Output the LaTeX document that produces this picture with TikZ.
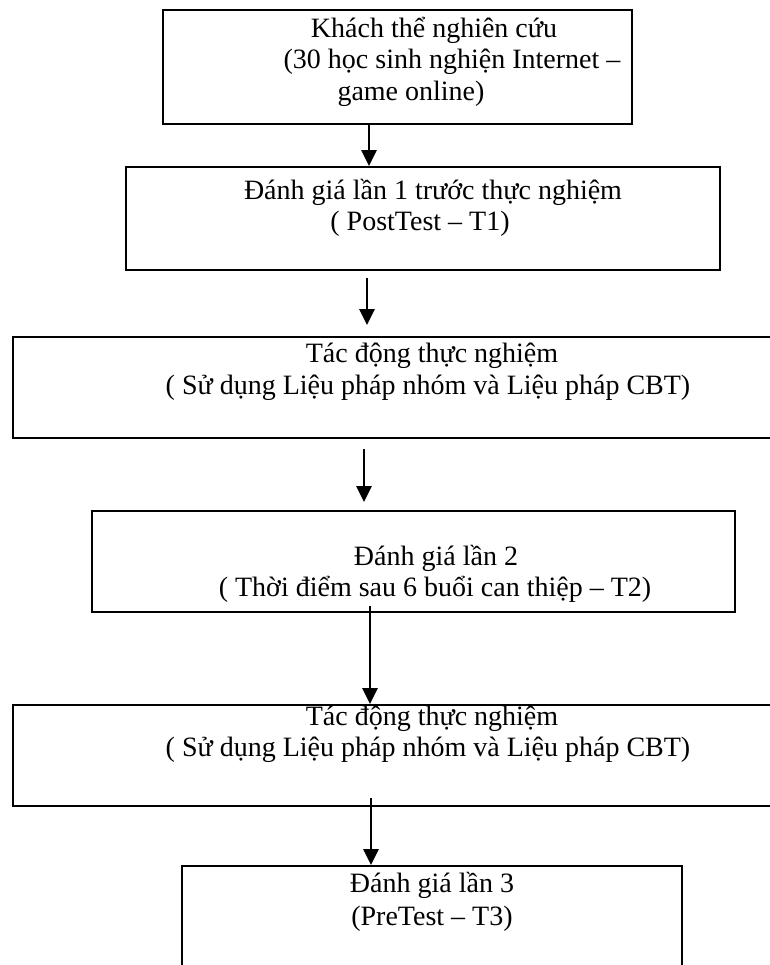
\documentclass[tikz,border=0pt]{standalone}
\usepackage{fontspec}
\setmainfont{Liberation Serif}
\usetikzlibrary{arrows.meta,calc}
\tikzset{
  box/.style={draw,line width=1pt,inner sep=0pt},
  txt/.style={anchor=base,inner sep=0pt,font=\fontsize{14pt}{15.5pt}\selectfont},
  arr/.style={line width=1.4pt,-{Triangle[length=8pt,width=7.5pt]}}
}
\begin{document}
\begin{tikzpicture}[x=0.5pt,y=-0.5pt]
\useasboundingbox (0,0) rectangle (770,965);
\clip (0,0) rectangle (770,965);
% boxes
\node (b1) at (397.5,67) [box,minimum width=234.5pt,minimum height=57pt] {};
\node (b2) at (423,218.5) [box,minimum width=297pt,minimum height=51.5pt] {};
\node (b3) at (401.5,387.5) [box,minimum width=388.5pt,minimum height=50.5pt] {};
\node (b4) at (413.5,561.5) [box,minimum width=321.5pt,minimum height=50.5pt] {};
\node (b5) at (401.5,755.5) [box,minimum width=388.5pt,minimum height=50.5pt] {};
\node (b6) at (432,933) [box,minimum width=250pt,minimum height=67pt] {};
% texts
\node (t1a) at (434,37) [txt] {Khách thể nghiên cứu};
\node (t1b) at (452,68) [txt] {(30 học sinh nghiện Internet –};
\node (t1c) at (411,100) [txt] {game online)};
\node (t2a) at (433,199) [txt] {Đánh giá lần 1 trước thực nghiệm};
\node (t2b) at (420,230) [txt] {( PostTest – T1)};
\node (t3a) at (432,362) [txt] {Tác động thực nghiệm};
\node (t3b) at (428,394) [txt] {( Sử dụng Liệu pháp nhóm và Liệu pháp CBT)};
\node (t4a) at (436,565) [txt] {Đánh giá lần 2};
\node (t4b) at (435,596) [txt] {( Thời điểm sau 6 buổi can thiệp – T2)};
\node (t5a) at (432,725) [txt] {Tác động thực nghiệm};
\node (t5b) at (428,756) [txt] {( Sử dụng Liệu pháp nhóm và Liệu pháp CBT)};
\node (t6a) at (432,892) [txt] {Đánh giá lần 3};
\node (t6b) at (432,925) [txt] {(PreTest – T3)};
% arrows
\draw[arr] (b1.south -| 369,0) -- (b2.north -| 369,0);
\draw[arr,shorten <=3.5pt,shorten >=5.5pt] (b2.south -| 367,0) -- (b3.north -| 367,0);
\draw[arr,shorten <=5pt,shorten >=4pt] (b3.south -| 364,0) -- (b4.north -| 364,0);
\draw[arr] ($(b4.south -| 370,0)+(0,-7)$) -- (b5.north -| 370,0);
\draw[arr] ($(b5.south -| 371,0)+(0,-9)$) -- (b6.north -| 371,0);
\end{tikzpicture}
\end{document}
